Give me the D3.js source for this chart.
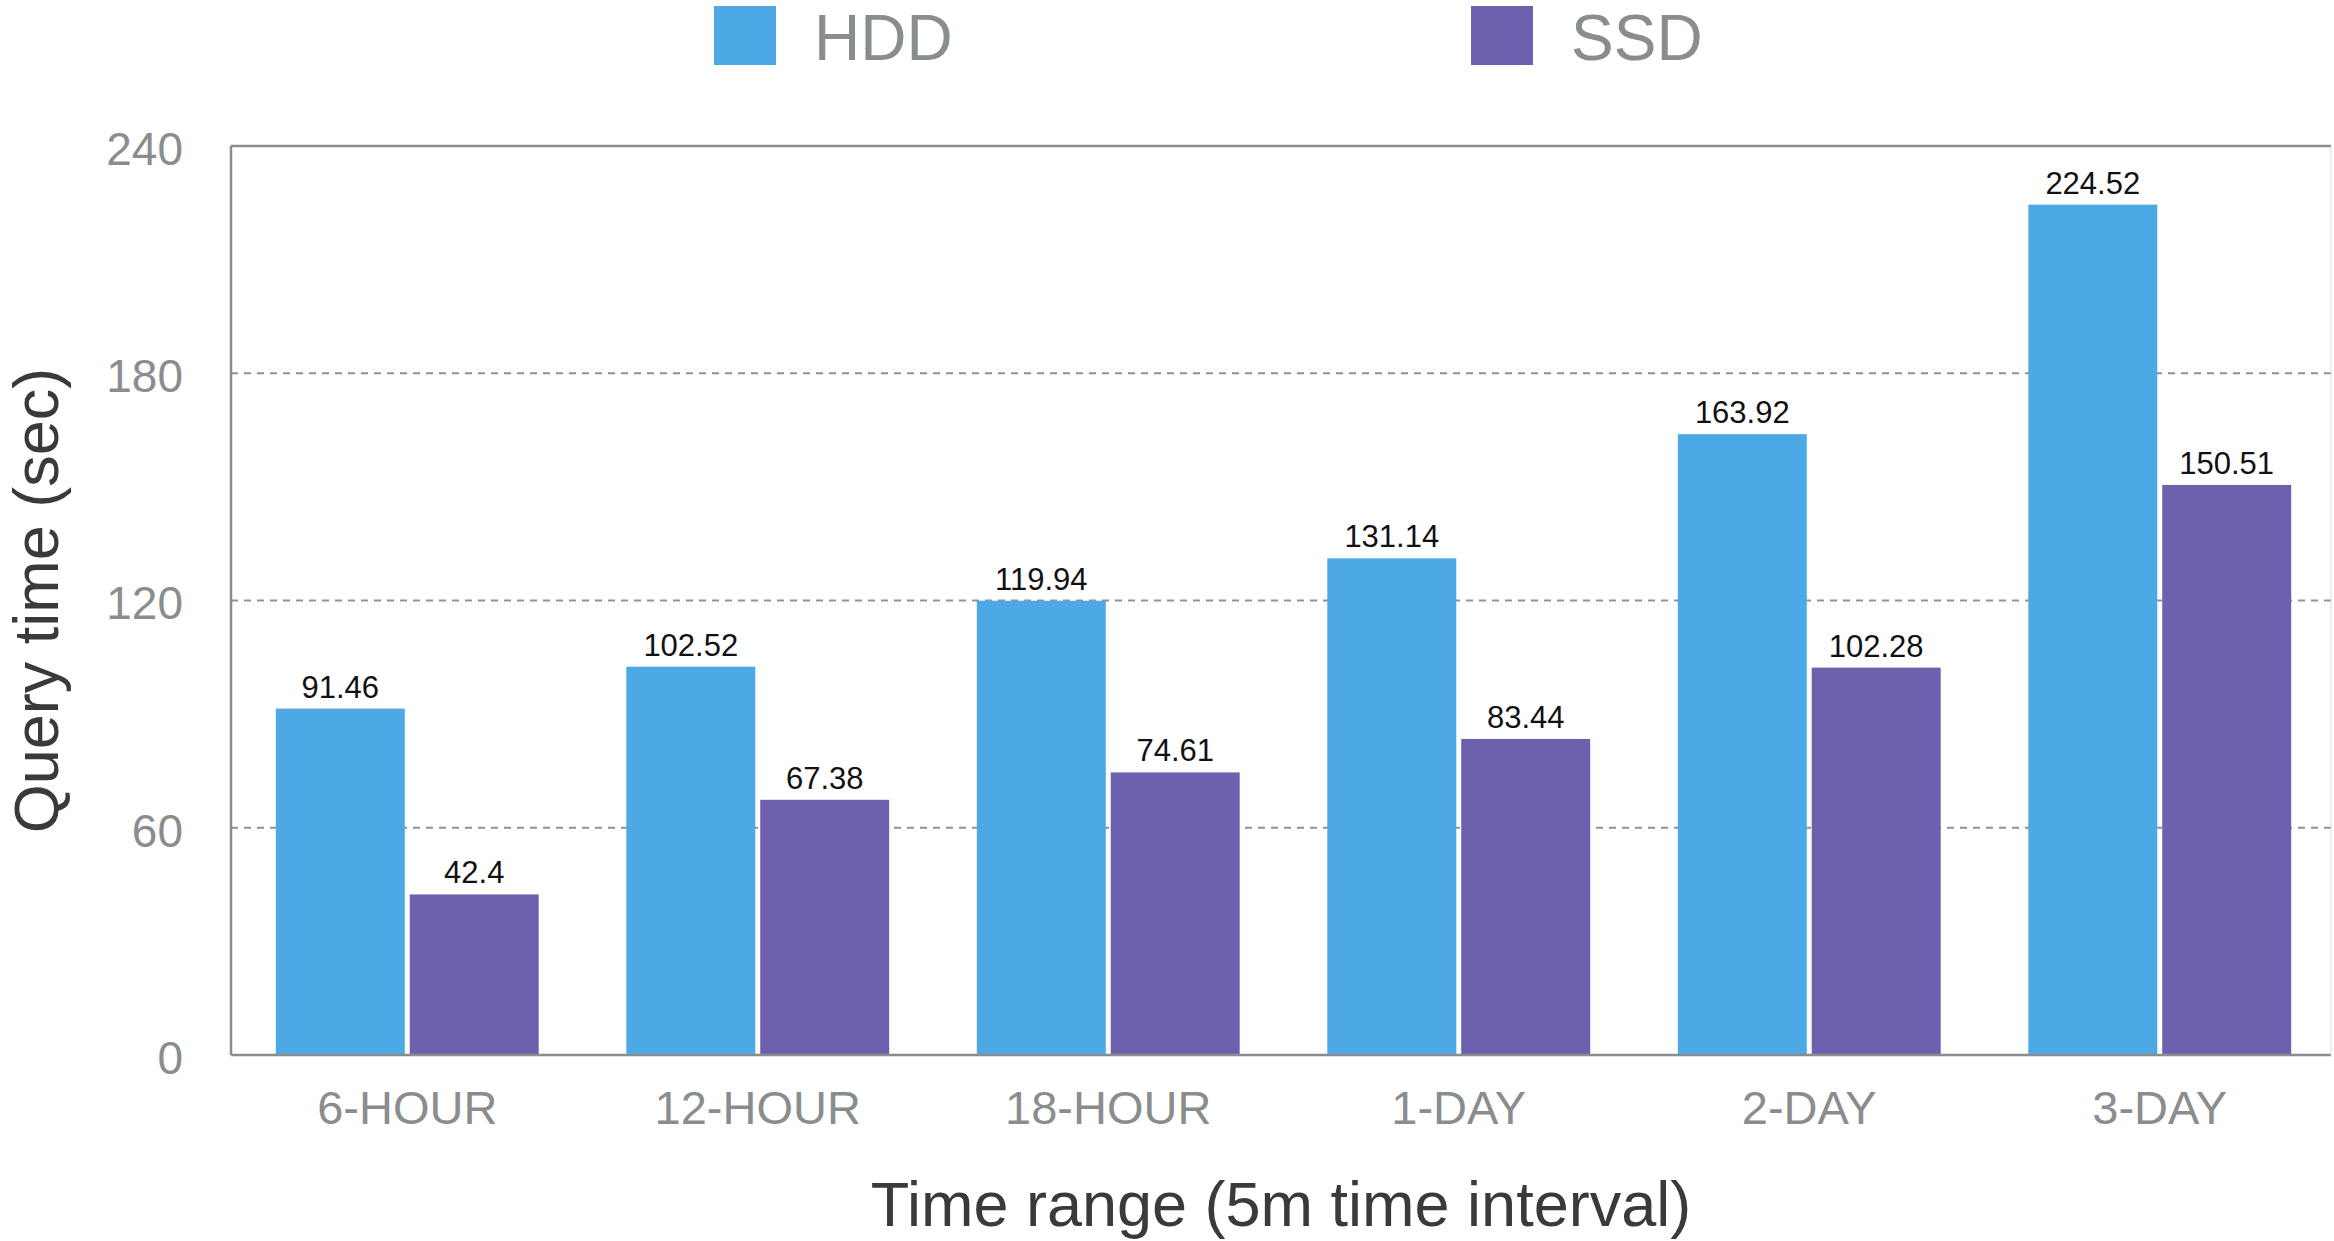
<!DOCTYPE html>
<html>
<head>
<meta charset="utf-8">
<script src="https://cdn.jsdelivr.net/npm/d3@7"></script>
<style>
  html, body { margin: 0; padding: 0; background: #fff; }
  svg { display: block; font-family: "Liberation Sans", Arial, Helvetica, sans-serif; }
</style>
</head>
<body>
<svg id="chart" width="2334" height="1241"></svg>
<script>
// Query time per time range, HDD vs SSD storage
const categories = ["6-HOUR", "12-HOUR", "18-HOUR", "1-DAY", "2-DAY", "3-DAY"];
const seriesNames = ["HDD", "SSD"];
const hddValues = [91.46, 102.52, 119.94, 131.14, 163.92, 224.52];
const ssdValues = [42.4, 67.38, 74.61, 83.44, 102.28, 150.51];
const yTicks = [0, 60, 120, 180, 240];
const colors = { HDD: "#4DA9E6", SSD: "#6C60AF" };

const rows = categories.map((c, i) => ({ category: c, HDD: hddValues[i], SSD: ssdValues[i] }));

const svg = d3.select("#chart");
const plot = { left: 231, right: 2331, top: 146, bottom: 1055 };

const x0 = d3.scaleBand()
  .domain(categories)
  .range([plot.left + 1, plot.right + 4])
  .paddingInner(0.25)
  .paddingOuter(0.125);

const x1 = d3.scaleBand()
  .domain(seriesNames)
  .range([0, x0.bandwidth()])
  .paddingInner(0.037);

const y = d3.scaleLinear()
  .domain([0, 240])
  .range([plot.bottom, plot.top]);

// dashed horizontal gridlines
svg.append("g")
  .selectAll("line")
  .data(yTicks.filter(t => t > 0 && t < 240))
  .join("line")
  .attr("x1", plot.left).attr("x2", plot.right)
  .attr("y1", d => y(d)).attr("y2", d => y(d))
  .attr("stroke", "#8f9292")
  .attr("stroke-width", 2)
  .attr("stroke-dasharray", "7,6");

// bars
const groups = svg.append("g")
  .selectAll("g")
  .data(rows)
  .join("g")
  .attr("transform", d => `translate(${x0(d.category)},0)`);

groups.selectAll("rect")
  .data(d => seriesNames.map(k => ({ key: k, value: d[k] })))
  .join("rect")
  .attr("x", d => x1(d.key))
  .attr("width", x1.bandwidth())
  .attr("y", d => y(d.value))
  .attr("height", d => y(0) - y(d.value))
  .attr("fill", d => colors[d.key]);

// value labels
groups.selectAll("text")
  .data(d => seriesNames.map(k => ({ key: k, value: d[k] })))
  .join("text")
  .attr("x", d => x1(d.key) + x1.bandwidth() / 2)
  .attr("y", d => y(d.value) - 11)
  .attr("text-anchor", "middle")
  .attr("font-size", 31)
  .attr("fill", "#111")
  .text(d => d.value);

// frame: left, top, bottom in grey, right edge light
svg.append("line")
  .attr("x1", plot.left).attr("x2", plot.left)
  .attr("y1", plot.top).attr("y2", plot.bottom)
  .attr("stroke", "#8a8d8d").attr("stroke-width", 2.5);
svg.append("line")
  .attr("x1", plot.left).attr("x2", plot.right)
  .attr("y1", plot.top).attr("y2", plot.top)
  .attr("stroke", "#8a8d8d").attr("stroke-width", 2.5);
svg.append("line")
  .attr("x1", plot.left).attr("x2", plot.right)
  .attr("y1", plot.bottom).attr("y2", plot.bottom)
  .attr("stroke", "#8a8d8d").attr("stroke-width", 2.5);
svg.append("line")
  .attr("x1", plot.right).attr("x2", plot.right)
  .attr("y1", plot.top).attr("y2", plot.bottom)
  .attr("stroke", "#dcdcdc").attr("stroke-width", 1);

// y axis labels
const yAxis = d3.axisLeft(y).tickValues(yTicks).tickSize(0).tickPadding(48);
const gy = svg.append("g")
  .attr("transform", `translate(${plot.left},0)`)
  .call(yAxis);
gy.select(".domain").remove();
gy.selectAll("text")
  .attr("dy", "0.4em")
  .attr("font-size", 46)
  .attr("fill", "#8a8d8d")
  .attr("font-family", "'Liberation Sans', Arial, sans-serif");

// x axis labels
const xAxis = d3.axisBottom(x0).tickSize(0).tickPadding(36);
const gx = svg.append("g")
  .attr("transform", `translate(0,${plot.bottom})`)
  .call(xAxis);
gx.select(".domain").remove();
gx.selectAll("text")
  .attr("font-size", 47)
  .attr("fill", "#8a8d8d")
  .attr("font-family", "'Liberation Sans', Arial, sans-serif");

// axis titles
svg.append("text")
  .attr("transform", `translate(58,${(plot.top + plot.bottom) / 2}) rotate(-90)`)
  .attr("text-anchor", "middle")
  .attr("font-size", 63)
  .attr("fill", "#3a3a3a")
  .text("Query time (sec)");

svg.append("text")
  .attr("x", (plot.left + plot.right) / 2)
  .attr("y", 1226)
  .attr("text-anchor", "middle")
  .attr("font-size", 63)
  .attr("fill", "#3a3a3a")
  .text("Time range (5m time interval)");

// legend
const legendX = { HDD: 714, SSD: 1471 };
const legend = svg.append("g")
  .selectAll("g")
  .data(seriesNames)
  .join("g")
  .attr("transform", d => `translate(${legendX[d]},6)`);
legend.append("rect")
  .attr("width", 62).attr("height", 59)
  .attr("fill", d => colors[d]);
legend.append("text")
  .attr("x", 100)
  .attr("y", 54)
  .attr("font-size", 64)
  .attr("fill", "#8a8d8d")
  .text(d => d);
</script>
</body>
</html>
